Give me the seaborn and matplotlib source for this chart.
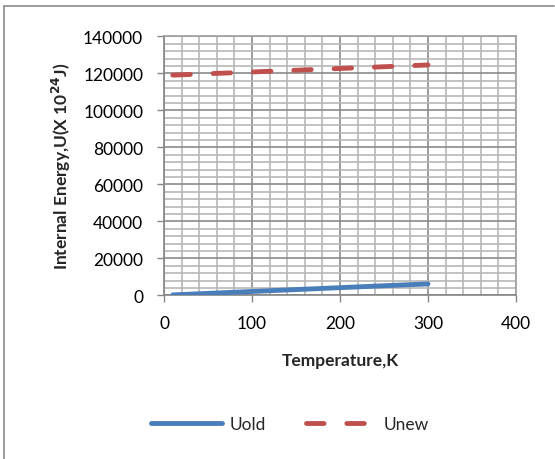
import matplotlib
matplotlib.use("Agg")
import matplotlib.pyplot as plt
import seaborn as sns
import pandas as pd
from matplotlib.ticker import MultipleLocator
from matplotlib.lines import Line2D

temperature = [10, 50, 100, 150, 200, 250, 300]
u_old = [210, 1040, 2070, 3100, 4130, 5160, 6150]
u_new = [119000, 119760, 120710, 121660, 122600, 123550, 124500]

sns.set_theme(style="white")
plt.rcParams['font.family'] = ['Lato', 'DejaVu Sans']

FS = 12.5
fig = plt.figure(figsize=(5.55, 4.6), dpi=100)
ax = fig.add_axes([164/555, 1-296.3/460, (516-164)/555, (296.3-37.3)/460])

blue = "#4a7ebb"
red = "#c0504d"
LW = 3.5
dash = (0, (3.6, 4.7))

df_old = pd.DataFrame({"T": temperature, "U": u_old})
df_new = pd.DataFrame({"T": temperature, "U": u_new})
sns.lineplot(data=df_old, x="T", y="U", ax=ax, color=blue, lw=LW,
             solid_capstyle="round", zorder=5)
sns.lineplot(data=df_new, x="T", y="U", ax=ax, color=red, lw=LW,
             linestyle=dash, dash_capstyle="round", zorder=5)

ax.set_xlim(0, 400)
ax.set_ylim(0, 140000)
ax.xaxis.set_major_locator(MultipleLocator(100))
ax.xaxis.set_minor_locator(MultipleLocator(20))
ax.yaxis.set_major_locator(MultipleLocator(20000))
ax.yaxis.set_minor_locator(MultipleLocator(4000))
ax.grid(True, which="major", color="#8a8a8a", lw=1.2)
ax.grid(True, which="minor", color="#b8b8b8", lw=1.2)
ax.set_axisbelow(True)
for s in ["top", "right"]:
    ax.spines[s].set_color("#a0a0a0")
    ax.spines[s].set_linewidth(1.2)
for s in ["left", "bottom"]:
    ax.spines[s].set_color("#868686")
    ax.spines[s].set_linewidth(1.2)
ax.tick_params(axis="both", which="major", length=5, width=1, color="#868686",
               direction="out", labelsize=FS, labelcolor="black",
               bottom=True, left=True)
ax.tick_params(axis="x", which="major", pad=9)
ax.tick_params(axis="y", which="major", pad=10)
ax.tick_params(axis="both", which="minor", length=0)
ax.set_xticks([0, 100, 200, 300, 400])
ax.set_xticklabels(["0", "100", "200", "300", "400"])
ax.set_yticks(list(range(0, 140001, 20000)))
ax.set_yticklabels([str(v) for v in range(0, 140001, 20000)])

ax.set_xlabel("Temperature,K", fontsize=FS, fontweight="bold", labelpad=15)
ax.set_ylabel("Internal Energy,U(X 10$^{\\mathbf{24}}$J)", fontsize=FS,
              fontweight="bold", labelpad=7)

handles = [Line2D([], [], color=blue, lw=LW, solid_capstyle="round"),
           Line2D([], [], color=red, lw=LW, linestyle=dash, dash_capstyle="round")]
fig.legend(handles, ["Uold", "Unew"], loc="center", ncol=2, frameon=False,
           bbox_to_anchor=(290/555, 1-425/460), fontsize=FS, handlelength=4.1,
           columnspacing=2.3, handletextpad=0.4)

# chart area border
fig.add_artist(Line2D([4/555, 4/555], [0, 1-7/460], transform=fig.transFigure,
                      color="#8a8a8a", lw=1.2))
fig.add_artist(Line2D([4/555, 554/555], [1-7/460, 1-7/460], transform=fig.transFigure,
                      color="#8a8a8a", lw=1.2))

fig.savefig("out.png", dpi=100)
